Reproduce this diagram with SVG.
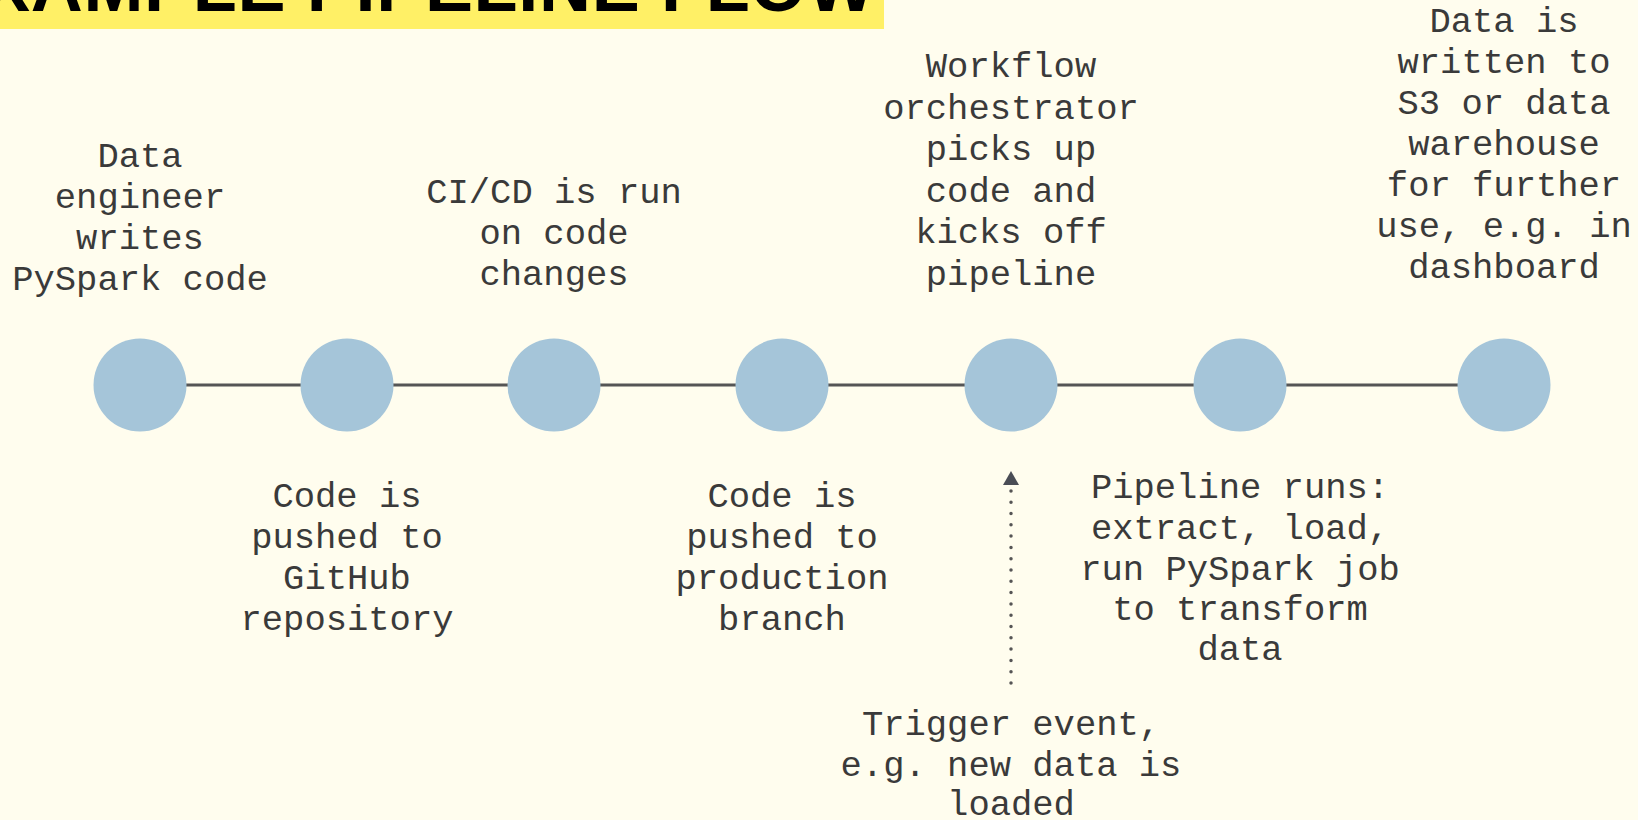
<svg xmlns="http://www.w3.org/2000/svg" width="1638" height="820" viewBox="0 0 1638 820">
<defs>
<style>
.bg{fill:#fffdee}
.t{font-family:"Liberation Mono","Courier New",monospace;font-size:35.5px;fill:#3a3a3a;text-anchor:middle}
.dot{fill:#a5c5d9}
.ln{stroke:#555;stroke-width:3;fill:none}
.dash{stroke:#555;stroke-width:3.5;fill:none;stroke-dasharray:0 11.3;stroke-linecap:round}
</style>
<marker id="ah" markerUnits="userSpaceOnUse" markerWidth="16" markerHeight="18" refX="0" refY="0" viewBox="0 -9 16 18" orient="auto">
<path d="M0,-8 L14,0 L0,8 z" fill="#4a4d55"/>
</marker>
</defs>
<rect class="bg" x="0" y="0" width="1638" height="820"/>
<g id="title">
<rect x="0" y="0" width="884" height="29" fill="#fff066"/>
<text x="-18" y="11" font-family="Liberation Sans, Arial, sans-serif" font-weight="bold" font-size="72" fill="#000" textLength="893" lengthAdjust="spacing">XAMPLE PIPELINE FLOW</text>
</g>
<g id="connectors">
<line class="ln" x1="140" y1="385" x2="1504" y2="385"/>
<path class="dash" d="M1011 683 V485" marker-end="url(#ah)"/>
</g>
<g id="step1"><circle class="dot" cx="140" cy="385" r="46.5"/>
<text class="t"><tspan x="140" y="167">Data</tspan><tspan x="140" y="208">engineer</tspan><tspan x="140" y="249">writes</tspan><tspan x="140" y="290">PySpark code</tspan></text></g>
<g id="step2"><circle class="dot" cx="347" cy="385" r="46.5"/>
<text class="t"><tspan x="347" y="507">Code is</tspan><tspan x="347" y="548">pushed to</tspan><tspan x="347" y="589">GitHub</tspan><tspan x="347" y="630">repository</tspan></text></g>
<g id="step3"><circle class="dot" cx="554" cy="385" r="46.5"/>
<text class="t"><tspan x="554" y="203">CI/CD is run</tspan><tspan x="554" y="244">on code</tspan><tspan x="554" y="285">changes</tspan></text></g>
<g id="step4"><circle class="dot" cx="782" cy="385" r="46.5"/>
<text class="t"><tspan x="782" y="507">Code is</tspan><tspan x="782" y="548">pushed to</tspan><tspan x="782" y="589">production</tspan><tspan x="782" y="630">branch</tspan></text></g>
<g id="step5"><circle class="dot" cx="1011" cy="385" r="46.5"/>
<text class="t"><tspan x="1011" y="77">Workflow</tspan><tspan x="1011" y="119">orchestrator</tspan><tspan x="1011" y="160">picks up</tspan><tspan x="1011" y="202">code and</tspan><tspan x="1011" y="243">kicks off</tspan><tspan x="1011" y="285">pipeline</tspan></text></g>
<g id="step6"><circle class="dot" cx="1240" cy="385" r="46.5"/>
<text class="t"><tspan x="1240" y="498">Pipeline runs:</tspan><tspan x="1240" y="539">extract, load,</tspan><tspan x="1240" y="580">run PySpark job</tspan><tspan x="1240" y="620">to transform</tspan><tspan x="1240" y="660">data</tspan></text></g>
<g id="step7"><circle class="dot" cx="1504" cy="385" r="46.5"/>
<text class="t"><tspan x="1504" y="32">Data is</tspan><tspan x="1504" y="73">written to</tspan><tspan x="1504" y="114">S3 or data</tspan><tspan x="1504" y="155">warehouse</tspan><tspan x="1504" y="196">for further</tspan><tspan x="1504" y="237">use, e.g. in</tspan><tspan x="1504" y="278">dashboard</tspan></text></g>
<g id="trigger">
<text class="t"><tspan x="1011" y="735">Trigger event,</tspan><tspan x="1011" y="776">e.g. new data is</tspan><tspan x="1011" y="815">loaded</tspan></text></g>
</svg>
